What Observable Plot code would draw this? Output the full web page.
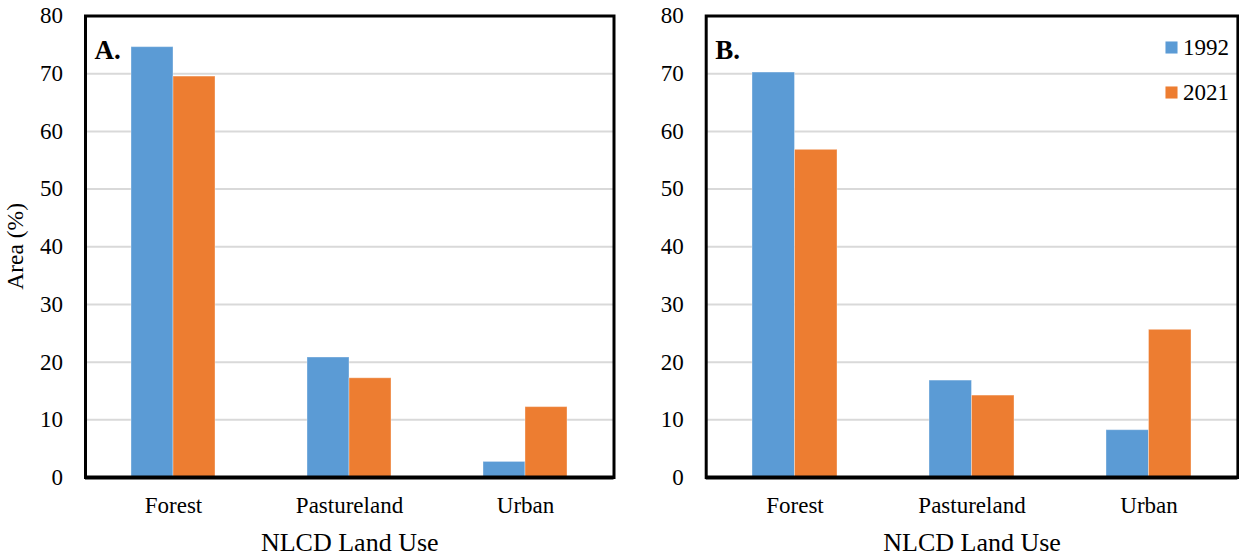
<!DOCTYPE html>
<html>
<head>
<meta charset="utf-8">
<script src="https://cdn.jsdelivr.net/npm/d3@7"></script>
<script src="https://cdn.jsdelivr.net/npm/@observablehq/plot@0.6"></script>
<style>
  html, body { margin: 0; padding: 0; background: #fff; }
  #charts { display: flex; width: 1239px; height: 556px; }
  #charts svg { overflow: visible; display: block; }
</style>
</head>
<body>
<div id="charts"></div>
<script>
// Land use categories and survey years
const categories = ["Forest", "Pastureland", "Urban"];
const years = ["1992", "2021"];
const yearColors = ["#5B9BD5", "#ED7D31"];

// Share of area (%) by land use, panel A
const areaA1992 = [74.6, 20.8, 2.7];
const areaA2021 = [69.5, 17.2, 12.2];

// Share of area (%) by land use, panel B
const areaB1992 = [70.2, 16.8, 8.2];
const areaB2021 = [56.8, 14.2, 25.6];

// Value axis ticks
const yTicks = [0, 10, 20, 30, 40, 50, 60, 70, 80];

const FONT = "Liberation Serif";

function tidy(v1992, v2021) {
  return categories.flatMap((c, i) => [
    {category: c, year: years[0], area: v1992[i]},
    {category: c, year: years[1], area: v2021[i]}
  ]);
}

function buildPanel(cfg, halfBand) {
  const data = cfg.data;
  const marks = [
    Plot.ruleY(yTicks.slice(1, -1), {stroke: "#d9d9d9", strokeOpacity: 1, strokeWidth: 2}),
    Plot.barY(data.filter(d => d.year === years[0]), {
      x: "category", y: "area", fill: "year", insetRight: halfBand,
      stroke: "#ffffff", strokeOpacity: 0.35, strokeWidth: 1
    }),
    Plot.barY(data.filter(d => d.year === years[1]), {
      x: "category", y: "area", fill: "year", insetLeft: halfBand,
      stroke: "#ffffff", strokeOpacity: 0.35, strokeWidth: 1
    }),
    Plot.frame({stroke: "#000", strokeWidth: 3}),
    Plot.ruleY([0], {stroke: "#000", strokeWidth: 4}),
    Plot.axisY(yTicks, {
      tickSize: 0, tickPadding: 22.4, label: null,
      fontFamily: FONT, fontSize: 23, fill: "#000"
    }),
    Plot.axisX({
      tickSize: 0, tickPadding: 19.4, label: null,
      fontFamily: FONT, fontSize: 23, fill: "#000"
    }),
    Plot.text([cfg.label], {
      frameAnchor: "top-left", textAnchor: "start", lineAnchor: "top",
      dx: 9, dy: 24, fontSize: 27, fontWeight: "bold", fontFamily: FONT, fill: "#000"
    }),
    Plot.text(["NLCD Land Use"], {
      frameAnchor: "bottom", lineAnchor: "middle", dy: 65.5,
      fontSize: 26, fontFamily: FONT, fill: "#000"
    })
  ];
  if (cfg.yLabel) {
    marks.push(Plot.text([cfg.yLabel], {
      frameAnchor: "left", rotate: -90, dx: -70, dy: 43,
      fontSize: 23.5, fontFamily: FONT, fill: "#000"
    }));
  }
  if (cfg.legend) {
    years.forEach((yr, i) => {
      marks.push(Plot.dot([yr], {
        frameAnchor: "top-right", dx: -66.4, dy: 31.5 + i * 45,
        symbol: "square", r: 6.8, fill: d => d, stroke: null
      }));
      marks.push(Plot.text([yr], {
        frameAnchor: "top-right", textAnchor: "start", lineAnchor: "middle",
        dx: -55, dy: 32 + i * 45, fontSize: 23, fontFamily: FONT, fill: "#000"
      }));
    });
  }
  return Plot.plot({
    width: cfg.width,
    height: 556,
    marginLeft: cfg.marginLeft,
    marginRight: cfg.marginRight,
    marginTop: 15.5,
    marginBottom: 79,
    style: {fontFamily: FONT, fontSize: "23px", color: "#000", background: "transparent"},
    x: {domain: categories, paddingInner: 0.52, paddingOuter: 0.26, align: 0.5},
    y: {domain: [0, 80]},
    color: {domain: years, range: yearColors},
    marks
  });
}

function panel(cfg) {
  // first pass reads the band width so each year fills half of its category band
  const probe = buildPanel(cfg, 0);
  const bw = probe.scale("x").bandwidth;
  return buildPanel(cfg, bw / 2);
}

const host = document.getElementById("charts");
host.appendChild(panel({
  label: "A.", data: tidy(areaA1992, areaA2021), width: 620,
  marginLeft: 85, marginRight: 6.5, yLabel: "Area (%)", legend: false
}));
host.appendChild(panel({
  label: "B.", data: tidy(areaB1992, areaB2021), width: 619,
  marginLeft: 85.7, marginRight: 1.6, yLabel: null, legend: true
}));
</script>
</body>
</html>
